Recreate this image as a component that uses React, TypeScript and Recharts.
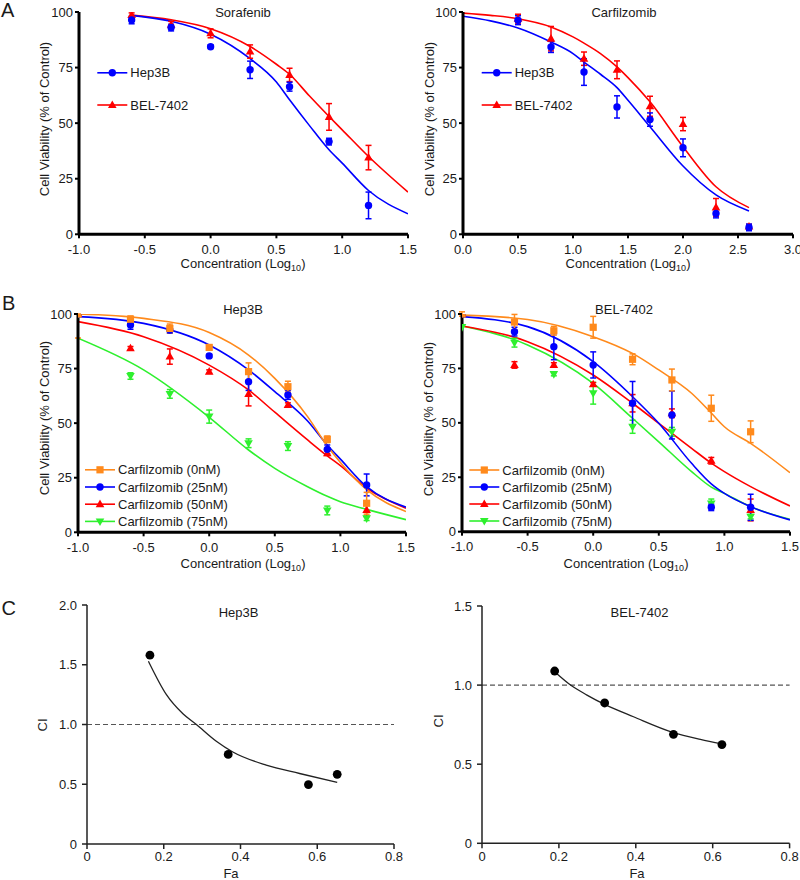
import React from 'react';
import { ComposedChart, Line, Scatter, XAxis, YAxis, ErrorBar, ReferenceLine } from 'recharts';

const FONT = '"Liberation Sans", Arial, Helvetica, sans-serif';
const INK = '#1a1a1a';
const BLUE = '#0000ff';
const RED = '#ff0000';
const ORANGE = '#ff8a1c';
const GREEN = '#2ef02e';

// ---------- A: single drugs ----------
const doseSora = [-0.6, -0.3, 0, 0.3, 0.6, 0.9, 1.2];
const soraHep3B = [96.4, 93, 84.4, 74, 66.4, 41.7, 13];
const soraHep3BErr = [1.7, 1.5, 0.8, 3.9, 2, 1.5, 6];
const soraBel = [98.6, 94.3, 90.4, 82.2, 71.7, 52.8, 34.5];
const soraBelErr = [1, 1.5, 2, 3, 3, 6, 5.5];
const fitXSora = [-0.6, -0.3, 0, 0.3, 0.5, 0.6, 0.75, 0.9, 1.0, 1.2, 1.5];
const fitSoraHep3B = [98.5, 95.8, 90, 79, 68.5, 60.5, 49, 38, 32, 19.7, 9.2];
const fitSoraBel = [98.6, 96.5, 92.5, 84.5, 76.5, 72, 62.3, 53, 47, 35, 19];

const doseCarf = [0.5, 0.8, 1.1, 1.4, 1.7, 2.0, 2.3, 2.6];
const carfHep3B = [96.3, 84.3, 73, 57.3, 51.6, 38.9, 9.4, 3.1];
const carfHep3BErr = [2, 2.5, 6, 5, 3, 4, 2, 1.5];
const carfBel = [97, 88, 79, 74, 57.6, 49.6, 12.1, 3.5];
const carfBelErr = [2, 5.5, 3, 4, 4.5, 3, 4, 1];
const fitXCarf = [0, 0.25, 0.5, 0.8, 1.0, 1.1, 1.25, 1.4, 1.5, 1.7, 2.0, 2.3, 2.6];
const fitCarfHep3B = [98.1, 96, 92.8, 86.5, 81.3, 77.5, 72, 66, 60.3, 48.4, 30.7, 17.7, 10.5];
const fitCarfBel = [99.5, 98.5, 97, 93.3, 88.8, 86, 81.3, 75.3, 70.5, 59.6, 39.4, 21.4, 12];

// ---------- B: combinations ----------
const doseB = [-1, -0.6, -0.3, 0, 0.3, 0.6, 0.9, 1.2];
const fitXB = [-1, -0.5, 0, 0.3, 0.5, 0.75, 0.9, 1.0, 1.2, 1.5];

const hepC0 = [100, 97.6, 93.4, 84.7, 73.6, 66.7, 42.6, 13.3];
const hepC0Err = [[11, 0], 1.5, 2, 1, 4, 2.5, 1.5, 5];
const hepC25 = [100, 95, 92.7, 80.8, 69, 62.9, 38, 21.7];
const hepC25Err = [0, 2, 1.5, 0.8, 4, 2, 2, 5];
const hepC50 = [100, 84.3, 80.5, 73.6, 63.4, 58.3, 36.2, 10.2];
const hepC50Err = [0, 0.8, 3.5, 0.8, 5.5, 1, 1, 3];
const hepC75 = [100, 71.6, 63.4, 53, 40.8, 39.5, 10, 6.4];
const hepC75Err = [0, 1.5, 2, 3, 2, 2, 2, 1];
const fitHepC0 = [100, 98, 91.5, 81.2, 70.5, 53, 39.5, 32, 19.5, 9.5];
const fitHepC25 = [98.8, 95.7, 85.8, 74.4, 64.4, 51, 40, 33.5, 20.9, 11.5];
const fitHepC50 = [96.5, 89.6, 76.6, 65.2, 55, 42.3, 35, 30.5, 20.2, 11];
const fitHepC75 = [88.9, 74.4, 52.7, 37.7, 29.3, 20.9, 16.5, 14, 10.5, 5.8];

const belC0 = [100, 96.3, 92.3, 93.9, 79.2, 69.7, 56.7, 45.9];
const belC0Err = [1, 3.5, 2, 5, 2.5, 5, 6, 5];
const belC25 = [100, 91.9, 85, 76.6, 59, 53.6, 11.2, 11.2];
const belC25Err = [0, 2, 6, 6, 10, 11, 1.5, 6];
const belC50 = [100, 76.6, 76.6, 67.7, 59, 54.4, 32.6, 10];
const belC50Err = [0, 1.5, 1, 0.8, 4, 2, 1.5, 5];
const belC75 = [94, 86.8, 72.4, 63.6, 48.2, 45.9, 13, 6.9];
const belC75Err = [0, 2, 0.8, 5, 3, 2, 2, 1];
const fitBelC0 = [99.5, 97.5, 89.6, 81.9, 74.3, 63.6, 54.5, 48.2, 40.6, 27.1];
const fitBelC25 = [98.8, 94.2, 78.1, 62, 49.8, 31.4, 22, 17.6, 11.5, 5.4];
const fitBelC50 = [94.5, 87.3, 72, 59, 49.8, 38.3, 31.5, 27.6, 20.7, 11.8];
const fitBelC75 = [94.5, 85.8, 68.1, 52.1, 41.3, 27.6, 20.5, 17.6, 11.5, 5.7];

// ---------- C: combination index ----------
const faHep3B = [0.164, 0.368, 0.577, 0.652];
const ciHep3B = [1.58, 0.75, 0.497, 0.583];
const fitFaHep3B = [0.16, 0.207, 0.25, 0.285, 0.337, 0.38, 0.467, 0.554, 0.652];
const fitCiHep3B = [1.53, 1.25, 1.09, 1.0, 0.86, 0.77, 0.66, 0.59, 0.516];

const faBel = [0.189, 0.319, 0.498, 0.624];
const ciBel = [1.089, 0.887, 0.689, 0.624];
const fitFaBel = [0.189, 0.234, 0.273, 0.319, 0.394, 0.498, 0.568, 0.624];
const fitCiBel = [1.085, 0.994, 0.937, 0.878, 0.8, 0.7, 0.657, 0.628];

const xTicksA1 = [-1, -0.5, 0, 0.5, 1, 1.5];
const xTicksA2 = [0, 0.5, 1, 1.5, 2, 2.5, 3];
const yTicksPct = [0, 25, 50, 75, 100];
const xTicksFa = [0, 0.2, 0.4, 0.6, 0.8];

type Kind = 'circle' | 'square' | 'tri' | 'triDown' | 'dot';

const toPts = (xs: number[], ys: number[], es?: any[]) =>
  xs.map((x, i) => ({ x, y: ys[i], e: es ? es[i] : 0 }));

function Marker({ kind, cx, cy, color }: { kind: Kind; cx: number; cy: number; color: string }) {
  if (cx == null || cy == null) return null;
  switch (kind) {
    case 'square':
      return <rect x={cx - 3.6} y={cy - 3.6} width={7.2} height={7.2} fill={color} />;
    case 'tri':
      return <polygon points={`${cx},${cy - 4.6} ${cx - 4.3},${cy + 3} ${cx + 4.3},${cy + 3}`} fill={color} />;
    case 'triDown':
      return <polygon points={`${cx},${cy + 4.6} ${cx - 4.3},${cy - 3} ${cx + 4.3},${cy - 3}`} fill={color} />;
    case 'dot':
      return <circle cx={cx} cy={cy} r={4.4} fill={color} />;
    default:
      return <circle cx={cx} cy={cy} r={3.7} fill={color} />;
  }
}

const sorafSeries = [
  { name: 'BEL-7402', color: RED, kind: 'tri' as Kind, pts: toPts(doseSora, soraBel, soraBelErr), fit: toPts(fitXSora, fitSoraBel) },
  { name: 'Hep3B', color: BLUE, kind: 'circle' as Kind, pts: toPts(doseSora, soraHep3B, soraHep3BErr), fit: toPts(fitXSora, fitSoraHep3B) },
];
const carfSeries = [
  { name: 'BEL-7402', color: RED, kind: 'tri' as Kind, pts: toPts(doseCarf, carfBel, carfBelErr), fit: toPts(fitXCarf, fitCarfBel) },
  { name: 'Hep3B', color: BLUE, kind: 'circle' as Kind, pts: toPts(doseCarf, carfHep3B, carfHep3BErr), fit: toPts(fitXCarf, fitCarfHep3B) },
];
const hepComboSeries = [
  { name: 'Carfilzomib (75nM)', color: GREEN, kind: 'triDown' as Kind, pts: toPts(doseB, hepC75, hepC75Err), fit: toPts(fitXB, fitHepC75) },
  { name: 'Carfilzomib (50nM)', color: RED, kind: 'tri' as Kind, pts: toPts(doseB, hepC50, hepC50Err), fit: toPts(fitXB, fitHepC50) },
  { name: 'Carfilzomib (25nM)', color: BLUE, kind: 'circle' as Kind, pts: toPts(doseB, hepC25, hepC25Err), fit: toPts(fitXB, fitHepC25) },
  { name: 'Carfilzomib (0nM)', color: ORANGE, kind: 'square' as Kind, pts: toPts(doseB, hepC0, hepC0Err), fit: toPts(fitXB, fitHepC0) },
];
const belComboSeries = [
  { name: 'Carfilzomib (75nM)', color: GREEN, kind: 'triDown' as Kind, pts: toPts(doseB, belC75, belC75Err), fit: toPts(fitXB, fitBelC75) },
  { name: 'Carfilzomib (50nM)', color: RED, kind: 'tri' as Kind, pts: toPts(doseB, belC50, belC50Err), fit: toPts(fitXB, fitBelC50) },
  { name: 'Carfilzomib (25nM)', color: BLUE, kind: 'circle' as Kind, pts: toPts(doseB, belC25, belC25Err), fit: toPts(fitXB, fitBelC25) },
  { name: 'Carfilzomib (0nM)', color: ORANGE, kind: 'square' as Kind, pts: toPts(doseB, belC0, belC0Err), fit: toPts(fitXB, fitBelC0) },
];

// plot areas (pixel boxes of the inner plot)
const PAD_L = 50;
const PAD_T = 10;
const PAD_R = 12;
const PAD_B = 30;

type Box = { x: number; y: number; w: number; h: number };

const tickStyle = { fill: INK, fontSize: 13, fontFamily: FONT };

function DosePanel({ box, series, xDomain, xTicks }: { box: Box; series: any[]; xDomain: number[]; xTicks: number[] }) {
  return (
    <div style={{ position: 'absolute', left: box.x - PAD_L, top: box.y - PAD_T }}>
      <ComposedChart
        width={box.w + PAD_L + PAD_R}
        height={box.h + PAD_T + PAD_B}
        margin={{ top: PAD_T, right: PAD_R, bottom: 0, left: 0 }}
      >
        <XAxis
          type="number"
          dataKey="x"
          domain={xDomain}
          ticks={xTicks}
          allowDataOverflow
          height={PAD_B}
          tickFormatter={(v: number) => v.toFixed(1)}
          axisLine={{ stroke: '#000', strokeWidth: 3 }}
          tickLine={{ stroke: '#000', strokeWidth: 2 }}
          tickSize={4}
          tickMargin={6}
          tick={tickStyle}
        />
        <YAxis
          type="number"
          dataKey="y"
          domain={[0, 100]}
          ticks={yTicksPct}
          allowDataOverflow
          width={PAD_L}
          axisLine={{ stroke: '#000', strokeWidth: 3 }}
          tickLine={{ stroke: '#000', strokeWidth: 2 }}
          tickSize={4}
          tickMargin={2}
          tick={tickStyle}
        />
        {series.map((s) => (
          <Line
            key={'fit-' + s.name}
            data={s.fit}
            dataKey="y"
            type="monotone"
            stroke={s.color}
            strokeWidth={1.6}
            dot={false}
            activeDot={false}
            isAnimationActive={false}
          />
        ))}
        {series.map((s) => (
          <Scatter
            key={'pts-' + s.name}
            data={s.pts}
            fill={s.color}
            isAnimationActive={false}
            shape={(p: any) => <Marker kind={s.kind} cx={p.cx} cy={p.cy} color={s.color} />}
          >
            <ErrorBar dataKey="e" direction="y" width={3} stroke={s.color} strokeWidth={1.5} isAnimationActive={false} />
          </Scatter>
        ))}
      </ComposedChart>
    </div>
  );
}

const fmtFa = (v: number) => (v === 0 ? '0' : v.toFixed(1));

function CiPanel({ box, yMax, yTicks, pts, fit }: { box: Box; yMax: number; yTicks: number[]; pts: any[]; fit: any[] }) {
  return (
    <div style={{ position: 'absolute', left: box.x - PAD_L, top: box.y - PAD_T }}>
      <ComposedChart
        width={box.w + PAD_L + PAD_R}
        height={box.h + PAD_T + PAD_B}
        margin={{ top: PAD_T, right: PAD_R, bottom: 0, left: 0 }}
      >
        <XAxis
          type="number"
          dataKey="x"
          domain={[0, 0.8]}
          ticks={xTicksFa}
          allowDataOverflow
          height={PAD_B}
          tickFormatter={fmtFa}
          axisLine={{ stroke: '#222', strokeWidth: 1.5 }}
          tickLine={{ stroke: '#222', strokeWidth: 1.5 }}
          tickSize={5}
          tickMargin={3}
          tick={tickStyle}
        />
        <YAxis
          type="number"
          dataKey="y"
          domain={[0, yMax]}
          ticks={yTicks}
          allowDataOverflow
          width={PAD_L}
          tickFormatter={fmtFa}
          axisLine={{ stroke: '#222', strokeWidth: 1.5 }}
          tickLine={{ stroke: '#222', strokeWidth: 1.5 }}
          tickSize={5}
          tickMargin={5}
          tick={tickStyle}
        />
        <ReferenceLine y={1} stroke="#555" strokeWidth={1.2} strokeDasharray="5 3" />
        <Line data={fit} dataKey="y" type="monotone" stroke="#222" strokeWidth={1.3} dot={false} activeDot={false} isAnimationActive={false} />
        <Scatter
          data={pts}
          fill="#000"
          isAnimationActive={false}
          shape={(p: any) => <Marker kind="dot" cx={p.cx} cy={p.cy} color="#000" />}
        />
      </ComposedChart>
    </div>
  );
}

function LegendRow({ x, y, kind, color, label }: { x: number; y: number; kind: Kind; color: string; label: string }) {
  return (
    <g>
      <line x1={x} y1={y} x2={x + 30} y2={y} stroke={color} strokeWidth={1.6} />
      <Marker kind={kind} cx={x + 15} cy={y} color={color} />
      <text x={x + 33} y={y + 4.6} fontSize={13} fill={INK}>
        {label}
      </text>
    </g>
  );
}

function YTitle({ x, y, children }: { x: number; y: number; children: React.ReactNode }) {
  return (
    <text transform={`translate(${x},${y}) rotate(-90)`} textAnchor="middle" fontSize={13} fill={INK}>
      {children}
    </text>
  );
}

function ConcTitle({ x, y }: { x: number; y: number }) {
  return (
    <text x={x} y={y} textAnchor="middle" fontSize={13} fill={INK}>
      Concentration (Log
      <tspan fontSize={9} dy={3}>10</tspan>
      <tspan dy={-3}>)</tspan>
    </text>
  );
}

const boxA1: Box = { x: 78.5, y: 11.5, w: 329, h: 222.3 };
const boxA2: Box = { x: 463.3, y: 12, w: 330, h: 222.3 };
const boxB1: Box = { x: 78.3, y: 314, w: 328, h: 218.3 };
const boxB2: Box = { x: 461.7, y: 314, w: 328, h: 217.7 };
const boxC1: Box = { x: 87.3, y: 605, w: 307, h: 239 };
const boxC2: Box = { x: 481.7, y: 606, w: 307.6, h: 237.3 };

const legendB = [
  { label: 'Carfilzomib (0nM)', color: ORANGE, kind: 'square' as Kind },
  { label: 'Carfilzomib (25nM)', color: BLUE, kind: 'circle' as Kind },
  { label: 'Carfilzomib (50nM)', color: RED, kind: 'tri' as Kind },
  { label: 'Carfilzomib (75nM)', color: GREEN, kind: 'triDown' as Kind },
];
const legendA = [
  { label: 'Hep3B', color: BLUE, kind: 'circle' as Kind },
  { label: 'BEL-7402', color: RED, kind: 'tri' as Kind },
];

export default function App() {
  return (
    <div style={{ position: 'absolute', left: 0, top: 0, width: 800, height: 880, background: '#fff', overflow: 'hidden', fontFamily: FONT }}>
      <DosePanel box={boxA1} series={sorafSeries} xDomain={[-1, 1.5]} xTicks={xTicksA1} />
      <DosePanel box={boxA2} series={carfSeries} xDomain={[0, 3]} xTicks={xTicksA2} />
      <DosePanel box={boxB1} series={hepComboSeries} xDomain={[-1, 1.5]} xTicks={xTicksA1} />
      <DosePanel box={boxB2} series={belComboSeries} xDomain={[-1, 1.5]} xTicks={xTicksA1} />
      <CiPanel box={boxC1} yMax={2} yTicks={[0, 0.5, 1, 1.5, 2]} pts={toPts(faHep3B, ciHep3B)} fit={toPts(fitFaHep3B, fitCiHep3B)} />
      <CiPanel box={boxC2} yMax={1.5} yTicks={[0, 0.5, 1, 1.5]} pts={toPts(faBel, ciBel)} fit={toPts(fitFaBel, fitCiBel)} />

      <svg width={800} height={880} style={{ position: 'absolute', left: 0, top: 0, pointerEvents: 'none', fontFamily: FONT }}>
        <text x={1} y={16.7} fontSize={20} fill={INK}>A</text>
        <text x={2} y={310} fontSize={20} fill={INK}>B</text>
        <text x={1.5} y={615} fontSize={20} fill={INK}>C</text>

        <text x={243} y={16.7} textAnchor="middle" fontSize={13} fill={INK}>Sorafenib</text>
        <text x={624} y={17} textAnchor="middle" fontSize={13} fill={INK}>Carfilzomib</text>
        <text x={243} y={314} textAnchor="middle" fontSize={13} fill={INK}>Hep3B</text>
        <text x={624} y={313.5} textAnchor="middle" fontSize={13} fill={INK}>BEL-7402</text>
        <text x={238.5} y={616.5} textAnchor="middle" fontSize={13} fill={INK}>Hep3B</text>
        <text x={639.5} y={616.5} textAnchor="middle" fontSize={13} fill={INK}>BEL-7402</text>

        <YTitle x={48.5} y={119}>Cell Viability (% of Control)</YTitle>
        <YTitle x={433.5} y={119}>Cell Viability (% of Control)</YTitle>
        <YTitle x={48.5} y={418}>Cell Viability (% of Control)</YTitle>
        <YTitle x={432.5} y={419}>Cell Viability (% of Control)</YTitle>
        <YTitle x={46.5} y={725}>CI</YTitle>
        <YTitle x={443} y={721}>CI</YTitle>

        <ConcTitle x={243} y={268} />
        <ConcTitle x={628} y={268} />
        <ConcTitle x={243} y={567.5} />
        <ConcTitle x={626} y={567.5} />
        <text x={231} y={877.5} textAnchor="middle" fontSize={13} fill={INK}>Fa</text>
        <text x={637} y={877.5} textAnchor="middle" fontSize={13} fill={INK}>Fa</text>

        {legendA.map((l, i) => (
          <LegendRow key={'a1' + i} x={97.3} y={72.8 + i * 32.2} kind={l.kind} color={l.color} label={l.label} />
        ))}
        {legendA.map((l, i) => (
          <LegendRow key={'a2' + i} x={481.7} y={72.7 + i * 32.3} kind={l.kind} color={l.color} label={l.label} />
        ))}
        {legendB.map((l, i) => (
          <LegendRow key={'b1' + i} x={85} y={469.8 + i * 17.2} kind={l.kind} color={l.color} label={l.label} />
        ))}
        {legendB.map((l, i) => (
          <LegendRow key={'b2' + i} x={469.3} y={470 + i * 17} kind={l.kind} color={l.color} label={l.label} />
        ))}
      </svg>
    </div>
  );
}
